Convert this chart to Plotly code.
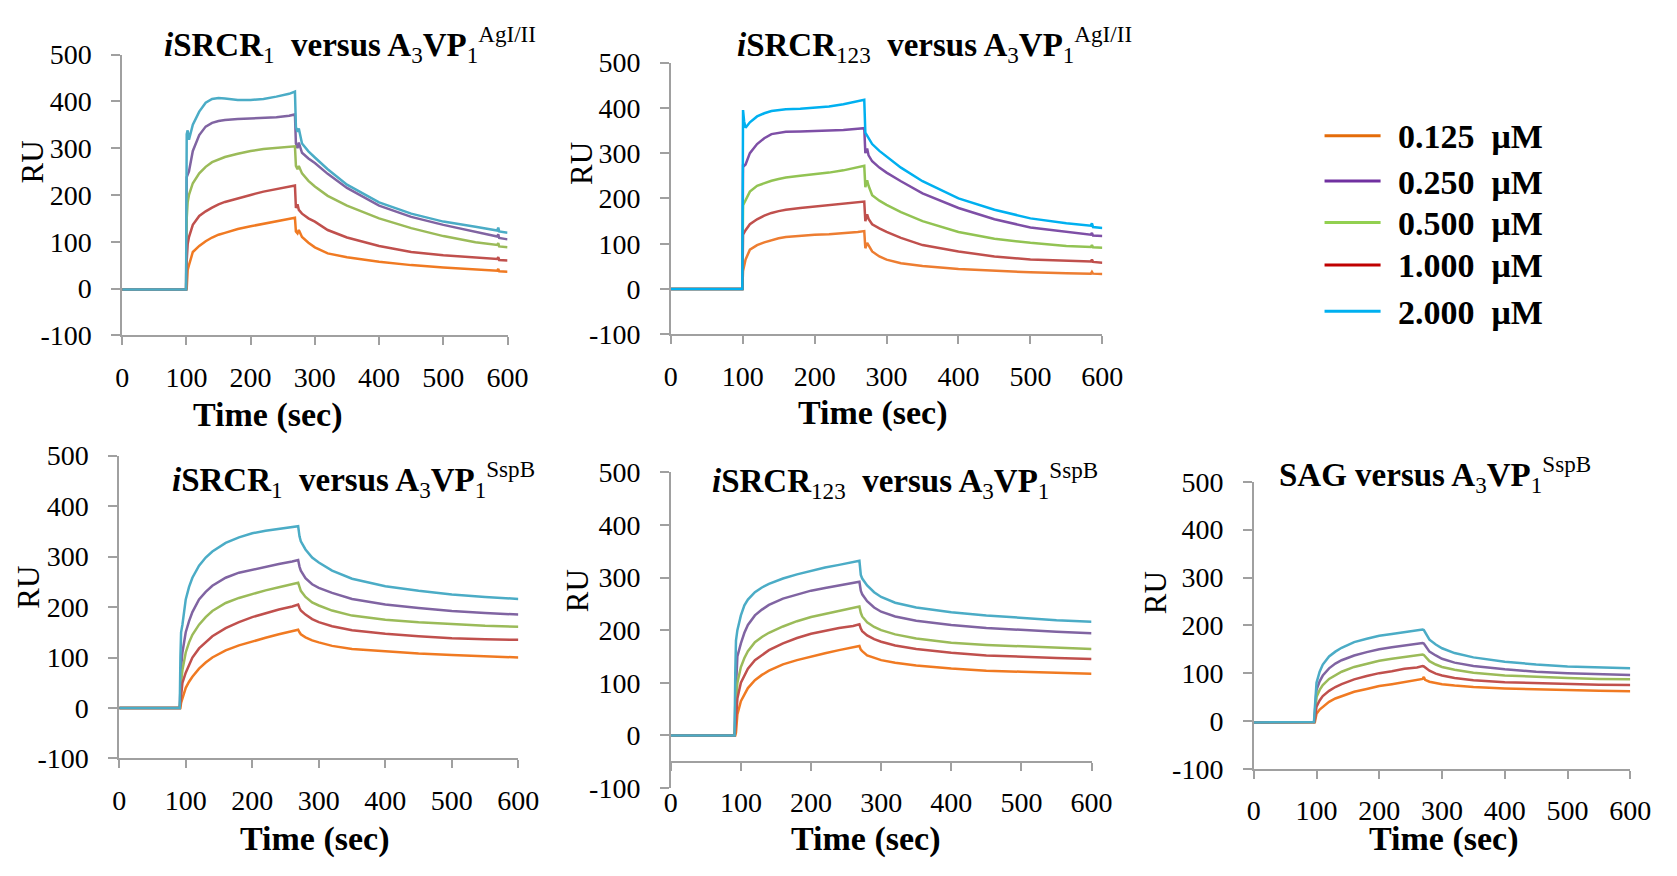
import plotly.graph_objects as go

# ---------------- data ----------------
CONC_LABELS = ["0.125 μM", "0.250 μM", "0.500 μM", "1.000 μM", "2.000 μM"]
LEGEND_COLORS = ["#E46C0A", "#7030A0", "#92D050", "#C00000", "#00B0F0"]

X_TICKS = [0, 100, 200, 300, 400, 500, 600]
Y_TICKS = [-100, 0, 100, 200, 300, 400, 500]
Y_TICK_LABELS = ["-100", "0", "100", "200", "300", "400", "500"]

# Panels 1 and 2 share a time grid (injection at ~100 s, dissociation from ~270 s)
T12 = [0, 99.5, 100.5, 102, 104, 110, 120, 130, 140, 150, 160, 180, 200, 220, 240, 260, 269,
       270.5, 273, 275, 280, 290, 300, 320, 350, 400, 450, 500, 550, 584, 585.5, 587, 600]

P1_0125 = [-2, -2, 0, 40, 50, 78, 91, 101, 109, 115, 119, 127, 133, 138, 143, 148, 151,
           122, 118, 125, 110, 98, 88, 75, 67, 57, 50, 45, 41, 38, 42, 37, 36]
P1_0250 = [-2, -2, 238, 245, 250, 294, 328, 346, 354, 358, 360, 362, 363, 364, 366, 369, 372,
           310, 300, 312, 290, 278, 268, 245, 215, 177, 153, 136, 122, 111, 116, 108, 105]
P1_0500 = [-2, -2, 150, 185, 200, 225, 246, 260, 270, 276, 281, 288, 294, 298, 301, 303, 304,
           262, 255, 262, 246, 230, 218, 198, 177, 150, 129, 112, 99, 93, 97, 90, 88]
P1_1000 = [-2, -2, 60, 95, 110, 136, 155, 165, 173, 180, 185, 193, 200, 207, 212, 217, 220,
           172, 180, 168, 160, 150, 143, 125, 109, 91, 78, 71, 66, 63, 67, 61, 60]
P1_2000 = [-2, -2, 330, 338, 318, 350, 378, 397, 405, 407, 406, 403, 403, 405, 410, 416, 421,
           345, 335, 342, 310, 293, 280, 255, 222, 184, 160, 143, 132, 124, 130, 122, 119]

P2_0125 = [0, 0, 40, 55, 65, 87, 97, 103, 108, 112, 115, 118, 120, 121, 123, 126, 128,
           90, 102, 96, 83, 72, 65, 57, 51, 44, 40, 37, 35, 34, 38, 34, 33]
P2_0250 = [0, 0, 275, 272, 275, 300, 320, 333, 342, 345, 347, 348, 349, 350, 351, 354, 355,
           300, 310, 295, 282, 268, 257, 238, 211, 179, 154, 136, 126, 120, 124, 118, 117]
P2_0500 = [0, 0, 185, 190, 195, 215, 228, 234, 239, 243, 246, 250, 253, 257, 262, 268, 272,
           225, 240, 228, 207, 195, 186, 170, 150, 126, 111, 102, 95, 93, 97, 92, 91]
P2_1000 = [0, 0, 120, 125, 130, 143, 154, 162, 168, 172, 175, 179, 182, 185, 188, 191, 193,
           150, 165, 155, 143, 134, 126, 113, 97, 83, 72, 65, 62, 61, 65, 60, 58]
P2_2000 = [0, 0, 395, 370, 356, 368, 381, 388, 393, 395, 397, 398, 400, 403, 408, 414, 418,
           345, 338, 335, 320, 305, 292, 268, 238, 200, 175, 156, 145, 140, 145, 137, 135]

# Panels 3 and 4 (injection at ~92 s)
T34 = [0, 91, 92, 93, 95, 100, 105, 110, 120, 130, 140, 160, 180, 200, 220, 240, 260, 269,
       271, 273, 280, 290, 300, 320, 350, 400, 450, 500, 550, 600]

P3_0125 = [0, 0, 0, 10, 20, 40, 52, 62, 78, 90, 100, 114, 124, 132, 139, 146, 152, 155,
           150, 146, 140, 134, 130, 123, 117, 112, 108, 105, 102, 100]
P3_0250 = [0, 0, 40, 80, 110, 150, 172, 190, 215, 230, 242, 258, 268, 274, 280, 285, 290, 293,
           280, 272, 257, 245, 238, 228, 216, 205, 198, 192, 188, 185]
P3_0500 = [0, 0, 20, 50, 75, 110, 130, 145, 165, 180, 192, 208, 218, 226, 233, 239, 245, 248,
           240, 232, 220, 209, 203, 193, 183, 175, 170, 166, 163, 161]
P3_1000 = [0, 0, 10, 30, 50, 70, 87, 100, 118, 131, 142, 158, 170, 180, 188, 195, 201, 205,
           198, 193, 185, 176, 170, 162, 154, 147, 142, 138, 136, 135]
P3_2000 = [0, 0, 100, 150, 165, 215, 240, 258, 282, 298, 310, 327, 338, 346, 351, 355, 358, 360,
           340, 330, 314, 298, 288, 272, 256, 241, 232, 225, 220, 216]

P4_0125 = [0, 0, 0, 5, 40, 65, 79, 90, 105, 115, 123, 135, 143, 150, 156, 162, 167, 170,
           163, 160, 152, 147, 143, 138, 133, 127, 123, 121, 119, 117]
P4_0250 = [0, 0, 60, 100, 150, 175, 195, 210, 228, 239, 248, 260, 268, 275, 280, 285, 290, 292,
           275, 268, 255, 243, 235, 226, 218, 210, 204, 200, 197, 194]
P4_0500 = [0, 0, 30, 60, 100, 130, 147, 160, 177, 187, 195, 207, 217, 225, 231, 237, 242, 245,
           233, 226, 215, 206, 200, 192, 184, 176, 172, 169, 166, 164]
P4_1000 = [0, 0, 10, 30, 70, 100, 115, 127, 143, 153, 162, 175, 185, 193, 199, 204, 208, 211,
           203, 198, 190, 183, 178, 171, 164, 157, 152, 149, 147, 145]
P4_2000 = [0, 0, 120, 180, 200, 228, 247, 258, 272, 281, 288, 298, 306, 313, 319, 324, 329, 332,
           305, 298, 285, 272, 263, 252, 243, 234, 228, 223, 219, 216]

# Panel 5: SAG (injection at ~97 s)
T5 = [0, 96, 97, 98, 100, 105, 110, 120, 130, 140, 160, 180, 200, 220, 240, 260, 269, 271,
      273, 280, 290, 300, 320, 350, 400, 450, 500, 550, 600]

P5_0125 = [-3, -2, -5, 0, 15, 24, 30, 40, 47, 52, 61, 67, 73, 77, 82, 86, 88, 92,
           86, 82, 79, 77, 74, 71, 68, 66, 64, 63, 62]
P5_0250 = [-3, -2, 10, 30, 65, 83, 95, 110, 120, 127, 137, 144, 150, 154, 158, 161, 163, 162,
           158, 145, 137, 130, 122, 115, 108, 103, 100, 98, 96]
P5_0500 = [-3, -2, 5, 20, 50, 65, 75, 88, 96, 103, 113, 120, 126, 130, 134, 137, 139, 138,
           135, 125, 118, 113, 107, 101, 95, 92, 90, 88, 87]
P5_1000 = [-3, -2, 0, 10, 30, 43, 52, 63, 71, 77, 87, 94, 100, 104, 109, 112, 115, 114,
           112, 105, 99, 95, 90, 85, 81, 79, 77, 76, 75]
P5_2000 = [-3, -2, 20, 40, 80, 103, 118, 135, 145, 153, 165, 172, 178, 182, 186, 189, 191, 190,
           185, 170, 160, 152, 142, 133, 124, 118, 114, 112, 110]

TITLES = [
    "<b><i>i</i>SRCR</b><sub>1</sub><b>\u00a0\u00a0versus A</b><sub>3</sub><b>VP</b><sub>1</sub><sup>AgI/II</sup>",
    "<b><i>i</i>SRCR</b><sub>123</sub><b>\u00a0\u00a0versus A</b><sub>3</sub><b>VP</b><sub>1</sub><sup>AgI/II</sup>",
    "<b><i>i</i>SRCR</b><sub>1</sub><b>\u00a0\u00a0versus A</b><sub>3</sub><b>VP</b><sub>1</sub><sup>SspB</sup>",
    "<b><i>i</i>SRCR</b><sub>123</sub><b>\u00a0\u00a0versus A</b><sub>3</sub><b>VP</b><sub>1</sub><sup>SspB</sup>",
    "<b>SAG versus A</b><sub>3</sub><b>VP</b><sub>1</sub><sup>SspB</sup>",
]
X_TITLE = "Time (sec)"
Y_TITLE = "RU"

PANEL_DATA = [
    (T12, [P1_0125, P1_0250, P1_0500, P1_1000, P1_2000]),
    (T12, [P2_0125, P2_0250, P2_0500, P2_1000, P2_2000]),
    (T34, [P3_0125, P3_0250, P3_0500, P3_1000, P3_2000]),
    (T34, [P4_0125, P4_0250, P4_0500, P4_1000, P4_2000]),
    (T5, [P5_0125, P5_0250, P5_0500, P5_1000, P5_2000]),
]

# ---------------- styling / layout ----------------
PAGE_W, PAGE_H = 1677, 876
BODY_MARGIN = 8  # default browser body margin around the plot div
W, H = PAGE_W - 2 * BODY_MARGIN, PAGE_H - 2 * BODY_MARGIN
FONT = "Liberation Serif, Tinos, Noto Serif, DejaVu Serif, serif"
AXIS_GRAY = "#A0A0A0"
COLORS_STD = ["#F07A22", "#8064A2", "#9BBB59", "#C0504D", "#4BACC6"]
COLORS_P2 = ["#ED7D31", "#7E4FA6", "#92C353", "#C0504D", "#00B0F0"]
PANEL_COLORS = [COLORS_STD, COLORS_P2, COLORS_STD, COLORS_STD, COLORS_STD]

# page-pixel geometry of each panel: plot box, x-axis crossing value, text anchors
GEOM = [
    dict(x0=117, x1=509, yt=40.7, yb=332, cross=-100,
         title=(158, 30), xt=(265, 415), yl=(26, 152)),
    dict(x0=675, x1=1114, yt=49, yb=331, cross=-100,
         title=(740, 30), xt=(880, 413), yl=(584, 154)),
    dict(x0=114, x1=520, yt=456.7, yb=771, cross=-100,
         title=(166, 482), xt=(313, 855), yl=(22, 593)),
    dict(x0=675, x1=1103, yt=474, yb=801.7, cross=-50,
         title=(715, 483), xt=(873, 855), yl=(580, 597)),
    dict(x0=1268, x1=1651, yt=484, yb=781.7, cross=-100,
         title=(1292, 476), xt=(1461, 855), yl=(1168, 599)),
]


def fx(p):
    return (p - BODY_MARGIN) / W


def fy(p):
    return 1 - (p - BODY_MARGIN) / H


fig = go.Figure()
annotations = []
shapes = []
layout = dict(
    width=W, height=H, margin=dict(l=0, r=0, t=0, b=0),
    paper_bgcolor="white", plot_bgcolor="white", showlegend=False,
    font=dict(family=FONT, color="black"),
)

for i, (g, (t, series)) in enumerate(zip(GEOM, PANEL_DATA)):
    n = i + 1
    xs = "" if n == 1 else str(n)
    for vals, col in zip(series, PANEL_COLORS[i]):
        fig.add_trace(go.Scatter(x=t, y=vals, mode="lines",
                                 line=dict(color=col, width=2.5),
                                 xaxis="x" + xs, yaxis="y" + xs,
                                 hoverinfo="skip", showlegend=False))
    ydom = [fy(g["yb"]), fy(g["yt"])]
    xax = dict(domain=[fx(g["x0"]), fx(g["x1"])], range=[0, 600],
               tickvals=X_TICKS, ticks="outside", ticklen=8, tickwidth=1.5,
               tickcolor=AXIS_GRAY, showline=True, linecolor=AXIS_GRAY, linewidth=1.5,
               showgrid=False, zeroline=False, ticklabelstandoff=8,
               tickfont=dict(family=FONT, size=28, color="black"))
    if g["cross"] == -100:
        xax["anchor"] = "y" + xs
    else:
        xax["anchor"] = "free"
        frac = (g["cross"] + 100) / 600.0
        xax["position"] = ydom[0] + (ydom[1] - ydom[0]) * frac
    yax = dict(domain=ydom, range=[-100, 500], anchor="x" + xs,
               tickvals=Y_TICKS, ticktext=Y_TICK_LABELS, ticks="outside", ticklen=9,
               tickwidth=1.5, tickcolor=AXIS_GRAY, showline=True, linecolor=AXIS_GRAY,
               linewidth=1.5, showgrid=False, zeroline=False, ticklabelstandoff=14,
               tickfont=dict(family=FONT, size=28, color="black"))
    layout["xaxis" + xs] = xax
    layout["yaxis" + xs] = yax

    annotations.append(dict(text=TITLES[i], x=fx(g["title"][0]), y=fy(g["title"][1]),
                            xref="paper", yref="paper", xanchor="left", yanchor="middle",
                            showarrow=False, font=dict(family=FONT, size=33, color="black")))
    annotations.append(dict(text="<b>" + X_TITLE + "</b>", x=fx(g["xt"][0]), y=fy(g["xt"][1]),
                            xref="paper", yref="paper", xanchor="center", yanchor="middle",
                            showarrow=False, font=dict(family=FONT, size=34, color="black")))
    annotations.append(dict(text=Y_TITLE, x=fx(g["yl"][0]), y=fy(g["yl"][1]),
                            xref="paper", yref="paper", xanchor="center", yanchor="middle",
                            textangle=-90, showarrow=False,
                            font=dict(family=FONT, size=31, color="black")))

# legend drawn as line swatches + labels
LEG_ROWS = [125, 172, 215, 259, 307]
for lab, col, ry in zip(CONC_LABELS, LEGEND_COLORS, LEG_ROWS):
    shapes.append(dict(type="line", xref="paper", yref="paper",
                       x0=fx(1340), x1=fx(1397), y0=fy(ry), y1=fy(ry),
                       line=dict(color=col, width=3)))
    annotations.append(dict(text="<b>" + lab.replace(" ", "\u00a0\u00a0") + "</b>",
                            x=fx(1413), y=fy(ry + 1), xref="paper", yref="paper",
                            xanchor="left", yanchor="middle", showarrow=False,
                            font=dict(family=FONT, size=34, color="black")))

layout["annotations"] = annotations
layout["shapes"] = shapes
fig.update_layout(**layout)
fig.write_html("out.html")
